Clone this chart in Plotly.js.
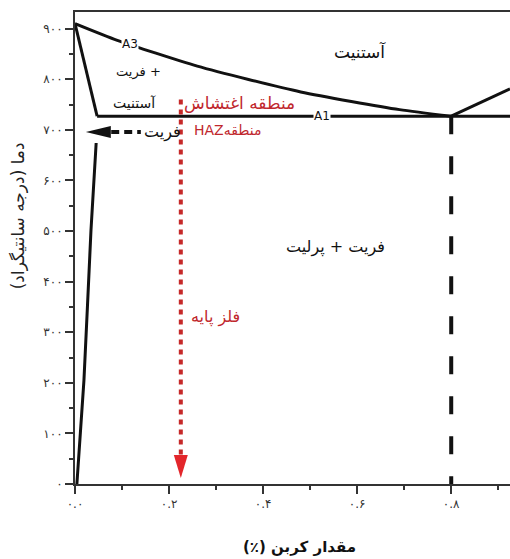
<!DOCTYPE html>
<html><head><meta charset="utf-8">
<script src="https://cdn.plot.ly/plotly-3.0.1.min.js"></script>
<style>html,body{margin:0;padding:0;background:#fff}#chart{width:510px;height:559px}</style>
</head><body><div id="chart"></div>
<script>
// ---- data (carbon %, temperature °C) ----
const a3X = [0, 0.09, 0.26, 0.48, 0.69, 0.8];
const a3Y = [910, 877, 826, 775, 740, 727];
const acmX = [0.8, 0.925];
const acmY = [727, 781];
const alphaGammaX = [0, 0.047];
const alphaGammaY = [910, 727];
const a1X = [0.047, 0.925];
const a1Y = [727, 727];
const solvusX = [0.004, 0.019, 0.034, 0.045];
const solvusY = [0, 205, 502, 674];
const eutectoidX = [0.8, 0.8];
const eutectoidY = [727, 0];
const hazX = [0.225, 0.225];
const hazY = [760, 57];
const hazTip = [0.225, 12];
const ferriteArrowX = [0.077, 0.14];
const ferriteArrowY = [696, 696];
const ferriteTip = [0.023, 696];

const yTickVals = [0, 100, 200, 300, 400, 500, 600, 700, 800, 900];
const yTickText = ['۰', '۱۰۰', '۲۰۰', '۳۰۰', '۴۰۰', '۵۰۰', '۶۰۰', '۷۰۰', '۸۰۰', '۹۰۰'];
const xTickVals = [0, 0.2, 0.4, 0.6, 0.8];
const xTickText = ['۰.۰', '۰.۲', '۰.۴', '۰.۶', '۰.۸'];

const RLM = '\u200F';
// rtl: wrap in RLM marks so the text is laid out right-to-left
const labels = [
  {t: 'A3', x: 0.118, y: 870, c: '#111', s: 12, bg: '#fff', rtl: false},
  {t: 'A1', x: 0.526, y: 727, c: '#111', s: 12, bg: '#fff', rtl: false},
  {t: 'فریت +', x: 0.136, y: 814, c: '#111', s: 13, rtl: false},
  {t: 'آستنیت', x: 0.126, y: 753, c: '#111', s: 14, rtl: true},
  {t: 'آستنیت', x: 0.606, y: 854, c: '#111', s: 17, rtl: true},
  {t: 'منطقه اغتشاش', x: 0.349, y: 753, c: '#c0272d', s: 17, rtl: true},
  {t: 'HAZمنطقه', x: 0.326, y: 700, c: '#c0272d', s: 14, rtl: false},
  {t: 'فریت', x: 0.186, y: 696, c: '#111', s: 16, rtl: true},
  {t: 'فریت + پرلیت', x: 0.553, y: 468, c: '#111', s: 16, rtl: true},
  {t: 'فلز پایه', x: 0.298, y: 330, c: '#c0272d', s: 16, rtl: true}
];

const black = '#111';
const lineT = (x, y, extra) => Object.assign({x, y, mode: 'lines', type: 'scatter', hoverinfo: 'skip',
  line: {color: black, width: 3}}, extra || {});

const traces = [
  lineT(a3X, a3Y, {line: {color: black, width: 3, shape: 'spline', smoothing: 0.6}}),
  lineT(acmX, acmY),
  lineT(alphaGammaX, alphaGammaY),
  lineT(a1X, a1Y),
  lineT(solvusX, solvusY, {line: {color: black, width: 3, shape: 'spline', smoothing: 0.5}}),
  lineT(eutectoidX, eutectoidY, {line: {color: black, width: 4, dash: '18px,22px'}}),
  lineT(hazX, hazY, {line: {color: '#c62828', width: 4, dash: '5px,5px'}}),
  lineT(ferriteArrowX, ferriteArrowY, {line: {color: black, width: 4, dash: '8px,5px'}})
];

const annotations = labels.map(l => ({
  text: l.rtl ? RLM + l.t + RLM : l.t, x: l.x, y: l.y, xref: 'x', yref: 'y', showarrow: false,
  font: {family: 'DejaVu Sans', size: l.s, color: l.c}, bgcolor: l.bg || 'rgba(0,0,0,0)', borderpad: 0
}));
annotations.push({
  text: RLM + 'دما (درجه سانتیگراد)' + RLM, textangle: -90, xref: 'paper', x: -0.16, yref: 'y', y: 530,
  showarrow: false, font: {family: 'DejaVu Sans', size: 17, color: '#222'}
});
annotations.push({
  text: RLM + '<b>مقدار کربن (٪)</b>' + RLM, xref: 'x', x: 0.477, yref: 'paper', y: -0.133, yanchor: 'middle',
  showarrow: false, font: {family: 'DejaVu Sans', size: 15, color: '#111'}
});

const shapes = [
  {type: 'path', xref: 'x', yref: 'y', xsizemode: 'pixel', ysizemode: 'pixel',
   xanchor: hazTip[0], yanchor: hazTip[1], path: 'M0,0 L-7,23 L7,23 Z',
   fillcolor: '#e3262b', line: {width: 0}},
  {type: 'path', xref: 'x', yref: 'y', xsizemode: 'pixel', ysizemode: 'pixel',
   xanchor: ferriteTip[0], yanchor: ferriteTip[1], path: 'M0,0 L25,6 L25,-6 Z',
   fillcolor: black, line: {width: 0}}
];

const axisCommon = {showgrid: false, zeroline: false, showline: true, linecolor: '#333', linewidth: 2,
  ticks: 'outside', ticklen: 8, tickwidth: 2, tickcolor: '#333',
  tickfont: {family: 'DejaVu Sans', size: 12, color: '#333'}, fixedrange: true};

const layout = {
  width: 510, height: 559,
  margin: {l: 75, r: 0, t: 12, b: 75},
  paper_bgcolor: '#fff', plot_bgcolor: '#fff',
  showlegend: false,
  xaxis: Object.assign({}, axisCommon, {range: [0, 0.925], tickmode: 'array', tickvals: xTickVals, ticktext: xTickText,
    mirror: true, minor: {tickmode: 'linear', tick0: 0, dtick: 0.1, ticklen: 4, tickwidth: 2, tickcolor: '#333', ticks: 'outside'}}),
  yaxis: Object.assign({}, axisCommon, {range: [0, 933], tickmode: 'array', tickvals: yTickVals, ticktext: yTickText,
    minor: {tickmode: 'linear', tick0: 0, dtick: 50, ticklen: 4, tickwidth: 2, tickcolor: '#333', ticks: 'outside'}}),
  annotations, shapes
};

Plotly.newPlot('chart', traces, layout, {displayModeBar: false, staticPlot: true});
</script></body></html>
